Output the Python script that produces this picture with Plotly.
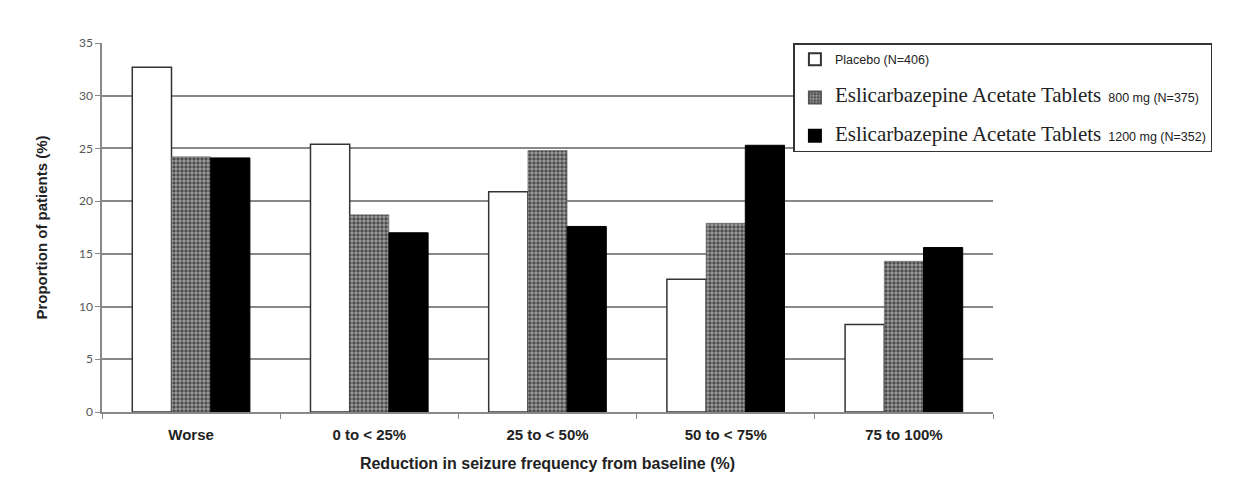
import plotly.graph_objects as go

categories = ["Worse", "0 to < 25%", "25 to < 50%", "50 to < 75%", "75 to 100%"]
placebo = [32.7, 25.4, 20.9, 12.6, 8.3]
esl_800 = [24.2, 18.7, 24.8, 17.9, 14.3]
esl_1200 = [24.1, 17.0, 17.6, 25.3, 15.6]
y_ticks = [0, 5, 10, 15, 20, 25, 30, 35]

SERIF = "Liberation Serif, Times New Roman, serif"
SANS = "Liberation Sans, Arial, sans-serif"

def legend_name(dose):
    return (f'<span style="font-family:{SERIF};font-size:21px">Eslicarbazepine Acetate Tablets</span>'
            f'<span style="font-size:12.5px">  {dose}</span>')

fig = go.Figure()
fig.add_trace(go.Bar(
    x=categories, y=placebo, name="Placebo (N=406)", legendgroup="a",
    marker=dict(color="white", line=dict(color="#333333", width=1.5)),
))
fig.add_trace(go.Bar(
    x=categories, y=esl_800, name=legend_name("800 mg (N=375)"), legendgroup="b",
    marker=dict(color="#444444", line=dict(color="#555555", width=0.5),
                pattern=dict(shape=".", fgcolor="#eeeeee", bgcolor="#444444", size=4, solidity=0.6)),
))
fig.add_trace(go.Bar(
    x=categories, y=esl_1200, name=legend_name("1200 mg (N=352)"), legendgroup="c",
    marker=dict(color="black", line=dict(color="black", width=1)),
))

fig.update_layout(
    width=1254, height=499,
    margin=dict(l=94, r=269, t=35, b=95),
    paper_bgcolor="white", plot_bgcolor="white",
    barmode="group", bargap=0.34, bargroupgap=0,
    font=dict(family=SANS, color="#222222"),
    showlegend=True,
    legend=dict(
        x=0.776, xanchor="left", y=1.0, yanchor="top",
        bordercolor="#333333", borderwidth=1.5, bgcolor="white",
        font=dict(family=SANS, size=12.5, color="#222222"),
        tracegroupgap=19, itemsizing="constant", itemwidth=30,
        traceorder="grouped",
    ),
)
fig.update_xaxes(
    type="category", showline=True, linecolor="#888888", linewidth=1.5,
    ticks="outside", tickson="boundaries", ticklen=5, tickcolor="#888888",
    ticklabelstandoff=8,
    tickfont=dict(family=SANS, size=15, color="#222222", weight="bold"),
    title=dict(text="<b>Reduction in seizure frequency from baseline (%)</b>",
               font=dict(family=SANS, size=16, color="#222222"), standoff=16),
    showgrid=False,
)
fig.update_yaxes(
    range=[0, 35], tickvals=y_ticks, showline=True, linecolor="#888888", linewidth=1.5,
    ticks="outside", ticklen=5, tickcolor="#888888",
    tickfont=dict(family="Lato, Liberation Sans, sans-serif", size=12, color="#555555"),
    showgrid=True, gridcolor="#888888", gridwidth=1.5, zeroline=False,
    title=dict(text="<b>Proportion of patients (%)</b>",
               font=dict(family=SANS, size=15, color="#222222"), standoff=28),
)

fig.write_html("out.html")
